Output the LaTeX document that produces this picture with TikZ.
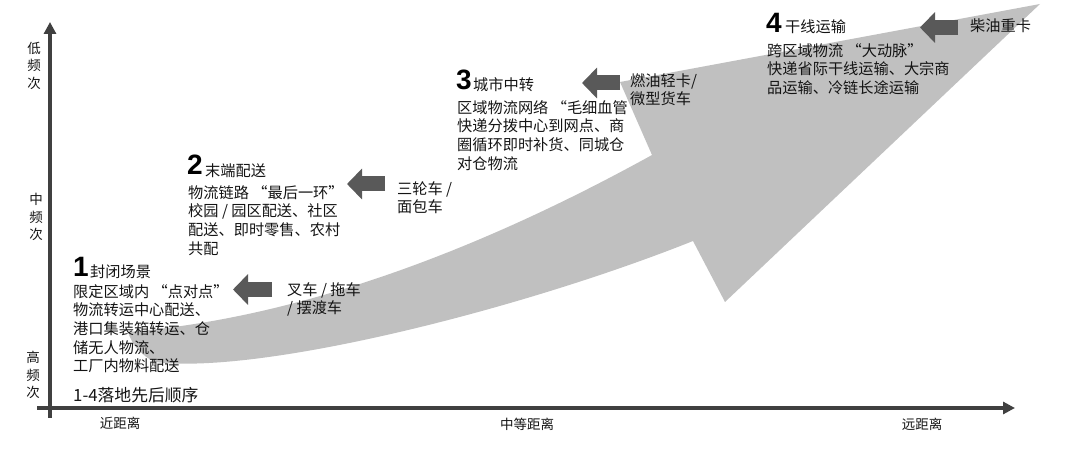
\documentclass[tikz,border=0pt]{standalone}
\usepackage{fontspec}
\setmainfont{Noto Sans CJK SC}
\newfontfamily\digitfont{Liberation Sans}
\usetikzlibrary{arrows.meta}
\definecolor{bandgray}{HTML}{C0C0C0}
\definecolor{arrowgray}{HTML}{595959}
\definecolor{axisgray}{HTML}{404040}
\definecolor{textblack}{HTML}{141414}
\begin{document}
\begin{tikzpicture}[x=1bp,y=-1bp,
  body/.style={font=\fontsize{15.2bp}{18.6bp}\selectfont, align=left, anchor=north west, inner sep=0pt, text=textblack},
  heading/.style={font=\fontsize{15.2bp}{18bp}\selectfont, anchor=base west, inner sep=0pt, text=textblack},
  digit/.style={font=\digitfont\bfseries\fontsize{28bp}{28bp}\selectfont, anchor=base west, inner sep=0pt, text=black},
  axislabel/.style={font=\fontsize{13.5bp}{17.5bp}\selectfont, align=center, inner sep=0pt, text=textblack},
  axisline/.style={draw=axisgray, line width=3.5bp, -{Triangle[length=12bp,width=12bp]}},
  vehicle arrow/.style={draw=arrowgray, line width=15bp, -{Triangle[length=15bp,width=30bp]}}
]
\useasboundingbox (0,0) rectangle (1080,463);

% big curved arrow
\fill[bandgray] (128,332) .. controls (300,318) and (480,250) .. (652,155)
  -- (620,82) -- (1040,4) -- (725,302) -- (693,241)
  .. controls (520,310) and (260,375) .. (155,362)
  .. controls (142,356) and (132,345) .. cycle;

% axes
\coordinate (ybot) at (50,418);
\coordinate (ytop) at (50,22);
\coordinate (xleft) at (37,408);
\coordinate (xright) at (1015,408);
\draw[axisline] (ybot) -- (ytop);
\draw[axisline] (xleft) -- (xright);

% axis labels
\node[axislabel] (ylow) at (34,65.5) {低\\频\\次};
\node[axislabel] (ymid) at (36,217) {中\\频\\次};
\node[axislabel] (yhigh) at (33,375) {高\\频\\次};
\node[axislabel] (xnear) at (120,423) {近距离};
\node[axislabel] (xmid) at (527,424) {中等距离};
\node[axislabel] (xfar) at (922,424) {远距离};

% stage 1
\node[digit] (n1) at (73,277) {1};
\node[heading] (h1) at (90,277.5) {封闭场景};
\node[body] (b1) at (73,284.2) {限定区域内 “点对点”\\物流转运中心配送、\\港口集装箱转运、仓\\储无人物流、\\工厂内物料配送};
\node[heading, anchor=west, font=\fontsize{16.8bp}{18bp}\selectfont] (order) at (73,395) {1-4落地先后顺序};

% stage 2
\node[digit] (n2) at (187,175) {2};
\node[heading] (h2) at (205,176.5) {末端配送};
\node[body] (b2) at (188,185.2) {物流链路 “最后一环”\\校园 / 园区配送、社区\\配送、即时零售、农村\\共配};

% stage 3
\node[digit] (n3) at (456,90) {3};
\node[heading] (h3) at (473,90.5) {城市中转};
\node[body] (b3) at (457,100.2) {区域物流网络 “毛细血管\\快递分拨中心到网点、商\\圈循环即时补货、同城仓\\对仓物流};

% stage 4
\node[digit] (n4) at (766,33) {4};
\node[heading] (h4) at (785,32.6) {干线运输};
\node[body] (b4) at (767,43.2) {跨区域物流 “大动脉”\\快递省际干线运输、大宗商\\品运输、冷链长途运输};

% vehicles
\node[body] (v1) at (287,282.2) {叉车 / 拖车\\/ 摆渡车};
\node[body] (v2) at (397,181.2) {三轮车 /\\面包车};
\node[body] (v3) at (630,73.2) {燃油轻卡/\\微型货车};
\node[body] (v4) at (970,18.2) {柴油重卡};

% vehicle arrows
\coordinate (a1s) at (272,289.5);
\coordinate (a1e) at (233,289.5);
\coordinate (a2s) at (385,184);
\coordinate (a2e) at (347,184);
\coordinate (a3s) at (620,83);
\coordinate (a3e) at (582,83);
\coordinate (a4s) at (958,27.5);
\coordinate (a4e) at (920,27.5);
\draw[vehicle arrow] (a1s) -- (a1e);
\draw[vehicle arrow] (a2s) -- (a2e);
\draw[vehicle arrow] (a3s) -- (a3e);
\draw[vehicle arrow] (a4s) -- (a4e);
\end{tikzpicture}
\end{document}
